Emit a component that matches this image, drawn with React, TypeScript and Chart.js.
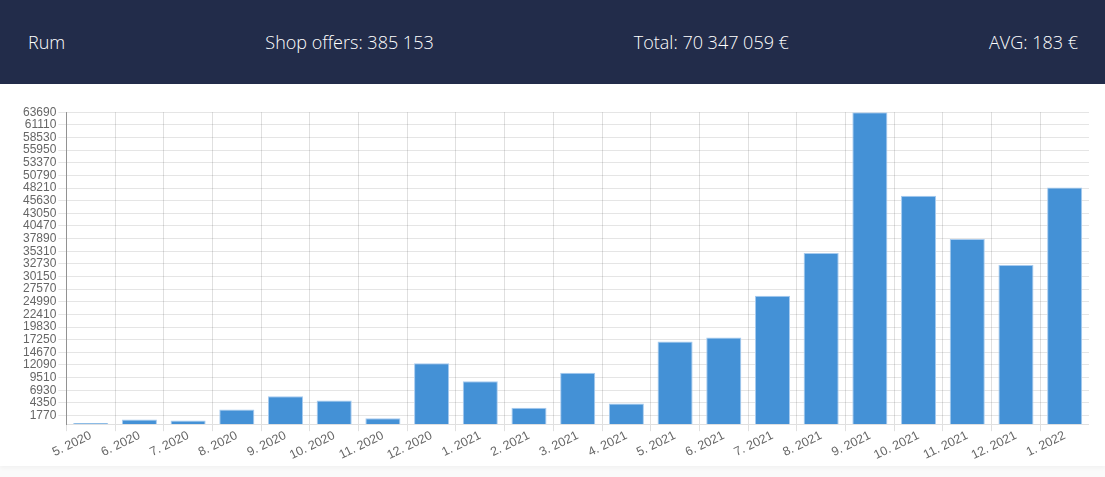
import React, { useEffect, useRef } from "react";
import { Chart, registerables } from "chart.js";

Chart.register(...registerables);

const categories = [
  "5. 2020", "6. 2020", "7. 2020", "8. 2020", "9. 2020", "10. 2020", "11. 2020", "12. 2020",
  "1. 2021", "2. 2021", "3. 2021", "4. 2021", "5. 2021", "6. 2021", "7. 2021", "8. 2021",
  "9. 2021", "10. 2021", "11. 2021", "12. 2021", "1. 2022",
];

const offerValues = [
  250, 950, 750, 3000, 5710, 4830, 1220, 12440,
  8770, 3340, 10480, 4220, 16870, 17690, 26200, 34970,
  63690, 46610, 37790, 32490, 48300,
];

const yTicks = [
  1770, 4350, 6930, 9510, 12090, 14670, 17250, 19830, 22410, 24990, 27570, 30150, 32730,
  35310, 37890, 40470, 43050, 45630, 48210, 50790, 53370, 55950, 58530, 61110, 63690,
];

const headerItems = ["Rum", "Shop offers: 385 153", "Total: 70 347 059 €", "AVG: 183 €"];

export default function App() {
  const canvasRef = useRef<HTMLCanvasElement | null>(null);

  useEffect(() => {
    document.body.style.margin = "0";
    document.body.style.background = "#fafafa";
    const canvas = canvasRef.current;
    if (!canvas) return;
    const chart = new Chart(canvas, {
      type: "bar",
      data: {
        labels: categories,
        datasets: [
          {
            data: offerValues,
            backgroundColor: "#4491d6",
            borderColor: "#a7cbef",
            borderWidth: 1,
          },
        ],
      },
      options: {
        animation: false,
        responsive: true,
        maintainAspectRatio: false,
        layout: { padding: { top: 0, right: 0, bottom: 0, left: 0 } },
        plugins: {
          legend: { display: false },
          tooltip: { enabled: false },
        },
        scales: {
          x: {
            grid: { color: "rgba(0,0,0,0.12)", tickLength: 7, offset: true },
            border: { color: "rgba(0,0,0,0.12)" },
            ticks: {
              color: "#666",
              padding: -3,
              font: { family: "'Liberation Sans', Arial, sans-serif", size: 12.5 },
              minRotation: 26,
              maxRotation: 26,
              autoSkip: false,
            },
          },
          y: {
            min: 0,
            max: 63690,
            afterBuildTicks: (scale: any) => {
              scale.ticks = yTicks.map((v) => ({ value: v }));
            },
            grid: { color: "rgba(0,0,0,0.1)", tickLength: 8 },
            border: { color: "rgba(0,0,0,0.35)" },
            ticks: {
              color: "#666",
              padding: 2,
              font: { family: "'Liberation Sans', Arial, sans-serif", size: 12 },
              autoSkip: false,
              callback: (v: any) => String(v),
            },
          },
        },
      },
    });
    return () => chart.destroy();
  }, []);

  return (
    <div style={{ width: 1105, height: 477, position: "relative", overflow: "hidden" }}>
      <div
        style={{
          height: 84,
          background: "#222c4a",
          display: "flex",
          justifyContent: "space-between",
          alignItems: "center",
          padding: "0 27px 0 28px",
          boxSizing: "border-box",
          color: "#ffffff",
          fontFamily: "'Open Sans', sans-serif",
          fontWeight: 300,
          fontSize: 18,
        }}
      >
        {headerItems.map((t) => (
          <span key={t}>{t}</span>
        ))}
      </div>
      <div
        style={{
          position: "absolute",
          top: 84,
          left: 0,
          width: 1105,
          height: 382,
          background: "#fff",
          boxShadow: "0 2px 4px rgba(0,0,0,0.04)",
        }}
      />
      <div style={{ position: "absolute", left: 21, top: 103, width: 1068, height: 357 }}>
        <canvas ref={canvasRef} />
      </div>
    </div>
  );
}
